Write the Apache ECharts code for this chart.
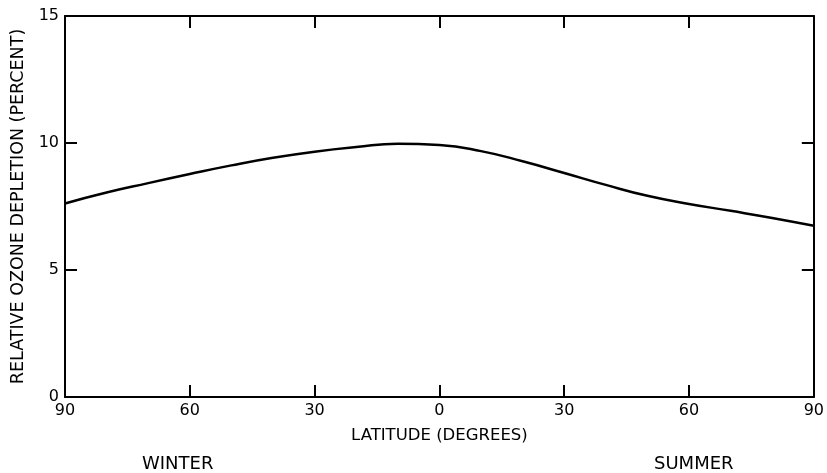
<!DOCTYPE html>
<html>
<head>
<meta charset="utf-8">
<script src="https://cdn.jsdelivr.net/npm/echarts@6/dist/echarts.min.js"></script>
<style>html,body{margin:0;padding:0;background:#fff;}#c{width:827px;height:473px;}</style>
</head>
<body>
<div id="c"></div>
<script>
// Latitude: negative = winter hemisphere, positive = summer hemisphere
var latitudes = [-90, -80, -70, -60, -50, -40, -30, -20, -10, 0, 10, 20, 30, 40, 50, 60, 70, 80, 90];
var depletion = [7.62, 8.05, 8.42, 8.78, 9.12, 9.42, 9.66, 9.84, 9.97, 9.92, 9.68, 9.28, 8.82, 8.35, 7.92, 7.60, 7.33, 7.05, 6.74];
var yTicks = [0, 5, 10, 15];
var xTitle = 'LATITUDE (DEGREES)';
var yTitle = 'RELATIVE OZONE DEPLETION (PERCENT)';
var seasonLeft = 'WINTER';
var seasonRight = 'SUMMER';

var font = 'DejaVu Sans';
var chart = echarts.init(document.getElementById('c'));
var data = latitudes.map(function (x, i) { return [x, depletion[i]]; });
var axisLine = { show: true, onZero: false, lineStyle: { color: '#000', width: 2 } };
var ticks = { show: true, inside: true, length: 12, lineStyle: { color: '#000', width: 2 } };

chart.setOption({
  animation: false,
  grid: { left: 65, right: 10, top: 16, bottom: 76 },
  xAxis: [{
    type: 'value', min: -90, max: 90, interval: 30, position: 'bottom',
    axisLine: axisLine, axisTick: ticks, splitLine: { show: false },
    axisLabel: { color: '#000', fontFamily: font, fontSize: 16, margin: 6,
      formatter: function (v) { return String(Math.abs(v)); } },
    name: xTitle, nameLocation: 'middle', nameGap: 30,
    nameTextStyle: { color: '#000', fontFamily: font, fontSize: 16.5 }
  }, {
    type: 'value', min: -90, max: 90, interval: 30, position: 'top',
    axisLine: axisLine, axisTick: ticks, axisLabel: { show: false }, splitLine: { show: false }
  }],
  yAxis: [{
    type: 'value', min: yTicks[0], max: yTicks[yTicks.length - 1], interval: 5, position: 'left',
    axisLine: axisLine, axisTick: ticks, splitLine: { show: false },
    axisLabel: { color: '#000', fontFamily: font, fontSize: 16, margin: 6 },
    name: yTitle, nameLocation: 'middle', nameGap: 36,
    nameTextStyle: { color: '#000', fontFamily: font, fontSize: 17.5 }
  }, {
    type: 'value', min: yTicks[0], max: yTicks[yTicks.length - 1], interval: 5, position: 'right',
    axisLine: axisLine, axisTick: ticks, axisLabel: { show: false }, splitLine: { show: false }
  }],
  series: [{
    type: 'line', data: data, smooth: true, showSymbol: false,
    lineStyle: { color: '#000', width: 2.5 }
  }],
  graphic: [
    { type: 'text', left: 142, top: 455, style: { text: seasonLeft, fill: '#000', font: '18px "DejaVu Sans"' } },
    { type: 'text', left: 654, top: 455, style: { text: seasonRight, fill: '#000', font: '18px "DejaVu Sans"' } }
  ]
});
</script>
</body>
</html>
